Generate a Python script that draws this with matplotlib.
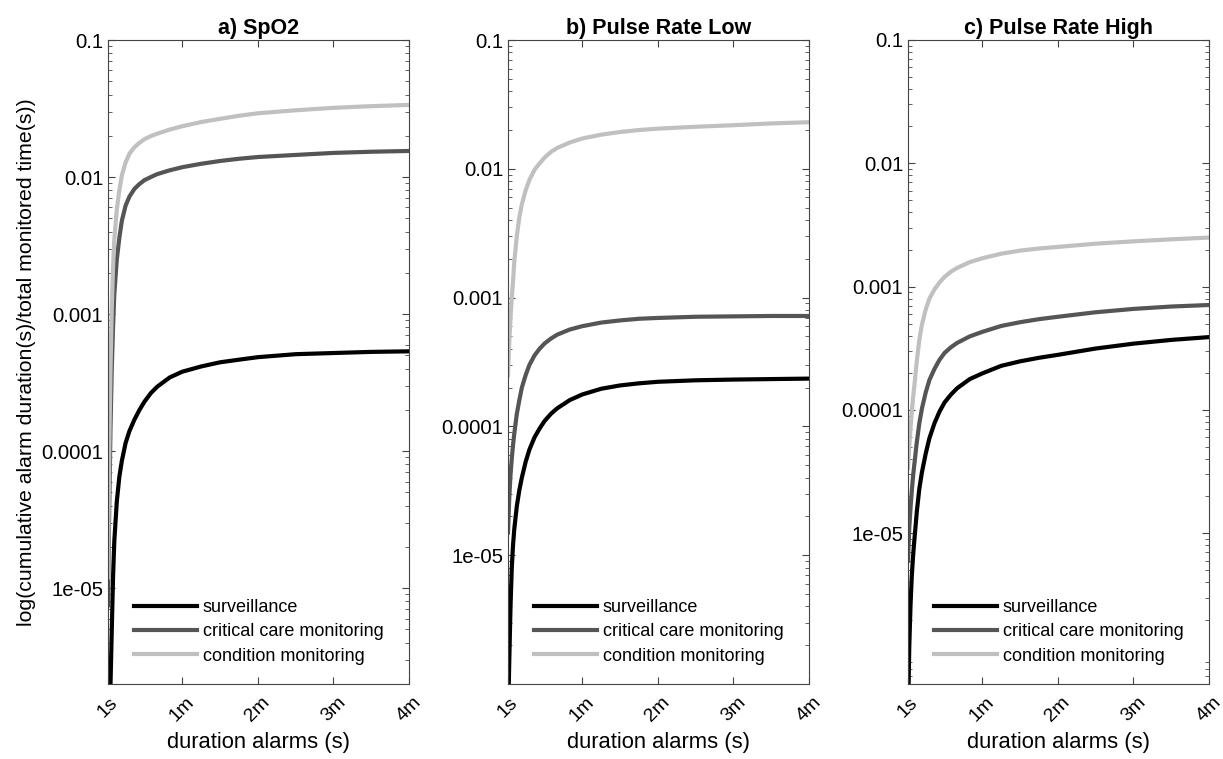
import numpy as np
import matplotlib
matplotlib.use("Agg")
import matplotlib.pyplot as plt
from matplotlib.ticker import LogLocator, NullFormatter

plt.rcParams['font.family'] = ['Liberation Sans', 'DejaVu Sans']

# alarm duration threshold (s)
t = [1, 2, 3, 4, 5, 6, 8, 10, 12, 15, 18, 22, 26, 30, 35, 40, 50, 60, 75, 90, 105, 120,
     150, 180, 210, 240]

# a) SpO2
spo2_surv = [1e-6, 1.2e-6, 2e-6, 5e-6, 1.2e-5, 2.2e-5, 4.3e-5, 6.5e-5, 8.5e-5, 1.15e-4,
             1.4e-4, 1.7e-4, 2.0e-4, 2.3e-4, 2.65e-4, 2.95e-4, 3.45e-4, 3.8e-4, 4.15e-4,
             4.45e-4, 4.65e-4, 4.85e-4, 5.1e-4, 5.2e-4, 5.3e-4, 5.35e-4]
spo2_crit = [7.5e-6, 4e-5, 1.5e-4, 4e-4, 8e-4, 1.4e-3, 2.5e-3, 3.6e-3, 4.8e-3, 6.2e-3,
             7.2e-3, 8.2e-3, 8.9e-3, 9.5e-3, 0.0100, 0.0105, 0.0112, 0.0118, 0.0125,
             0.0131, 0.0136, 0.0140, 0.0145, 0.0150, 0.0153, 0.0155]
spo2_cond = [1.2e-5, 1e-4, 4e-4, 1.1e-3, 2.2e-3, 3.5e-3, 5.8e-3, 8e-3, 0.0103, 0.0128,
             0.0148, 0.0165, 0.0178, 0.0189, 0.0199, 0.0207, 0.0222, 0.0235, 0.0252,
             0.0266, 0.0280, 0.0292, 0.0307, 0.0320, 0.0329, 0.0336]

# b) Pulse Rate Low
prl_surv = [5e-7, 1.5e-6, 4e-6, 8e-6, 1.2e-5, 1.6e-5, 2.4e-5, 3.2e-5, 4e-5, 5.3e-5,
            6.6e-5, 8.2e-5, 9.6e-5, 1.1e-4, 1.25e-4, 1.38e-4, 1.6e-4, 1.77e-4, 1.96e-4,
            2.08e-4, 2.16e-4, 2.22e-4, 2.28e-4, 2.31e-4, 2.33e-4, 2.35e-4]
prl_crit = [1.5e-5, 2.8e-5, 4.2e-5, 5.6e-5, 7.2e-5, 8.8e-5, 1.25e-4, 1.6e-4, 2.0e-4, 2.5e-4,
            3.0e-4, 3.55e-4, 4.0e-4, 4.4e-4, 4.8e-4, 5.15e-4, 5.65e-4, 6.0e-4, 6.4e-4,
            6.65e-4, 6.85e-4, 6.95e-4, 7.1e-4, 7.15e-4, 7.2e-4, 7.2e-4]
prl_cond = [2.5e-4, 4.5e-4, 7e-4, 1.0e-3, 1.35e-3, 1.9e-3, 3.0e-3, 4.2e-3, 5.3e-3, 6.8e-3,
            8.2e-3, 9.8e-3, 0.0110, 0.0122, 0.0135, 0.0145, 0.0160, 0.0172, 0.0184,
            0.0193, 0.0200, 0.0205, 0.0212, 0.0218, 0.0225, 0.0230]

# c) Pulse Rate High
prh_surv = [3e-7, 1.2e-6, 2.6e-6, 4.5e-6, 6.5e-6, 8.7e-6, 1.5e-5, 2.3e-5, 3.1e-5, 4.4e-5,
            5.9e-5, 7.8e-5, 9.7e-5, 1.15e-4, 1.33e-4, 1.5e-4, 1.78e-4, 1.98e-4, 2.28e-4,
            2.48e-4, 2.65e-4, 2.8e-4, 3.15e-4, 3.45e-4, 3.7e-4, 3.9e-4]
prh_crit = [6e-6, 1.1e-5, 1.6e-5, 2.2e-5, 2.9e-5, 3.6e-5, 5.5e-5, 7.8e-5, 1.02e-4, 1.38e-4,
            1.75e-4, 2.15e-4, 2.55e-4, 2.9e-4, 3.22e-4, 3.5e-4, 3.95e-4, 4.3e-4, 4.8e-4,
            5.15e-4, 5.45e-4, 5.7e-4, 6.2e-4, 6.6e-4, 6.9e-4, 7.1e-4]
prh_cond = [3.4e-5, 5.2e-5, 7.2e-5, 9.6e-5, 1.25e-4, 1.55e-4, 2.5e-4, 3.7e-4, 4.9e-4, 6.5e-4,
            8.0e-4, 9.5e-4, 1.08e-3, 1.2e-3, 1.32e-3, 1.42e-3, 1.58e-3, 1.7e-3, 1.85e-3,
            1.96e-3, 2.04e-3, 2.1e-3, 2.23e-3, 2.33e-3, 2.42e-3, 2.5e-3]

titles = ['a) SpO2', 'b) Pulse Rate Low', 'c) Pulse Rate High']
ymins = [2e-6, 1e-6, 6e-7]
series = [(spo2_surv, spo2_crit, spo2_cond),
          (prl_surv, prl_crit, prl_cond),
          (prh_surv, prh_crit, prh_cond)]
labels = ['surveillance', 'critical care monitoring', 'condition monitoring']
colors = ['#000000', '#555555', '#c0c0c0']

xticks = [1, 60, 120, 180, 240]
xticklabels = ['1s', '1m', '2m', '3m', '4m']
yticks = [1e-5, 1e-4, 1e-3, 1e-2, 1e-1]
yticklabels = ['1e-05', '0.0001', '0.001', '0.01', '0.1']

fig = plt.figure(figsize=(12.23, 7.59), dpi=100)
lefts = [108, 508, 908]
for i in range(3):
    ax = fig.add_axes([lefts[i] / 1223, 1 - 684 / 759, 301 / 1223, 644 / 759])
    for vals, lab, c in zip(series[i], labels, colors):
        ax.plot(t, vals, color=c, lw=3, label=lab)
    ax.set_yscale('log')
    ax.set_xlim(1, 240)
    ax.set_ylim(ymins[i], 0.1)
    ax.set_yticks(yticks)
    ax.set_yticklabels(yticklabels)
    ax.yaxis.set_minor_locator(LogLocator(base=10, subs=np.arange(2, 10)))
    ax.yaxis.set_minor_formatter(NullFormatter())
    ax.set_xticks(xticks)
    ax.set_xticklabels(xticklabels, rotation=45, ha='center')
    ax.tick_params(which='both', direction='in', top=True, right=True,
                   color='#444444', labelsize=14.7)
    ax.tick_params(which='major', length=5)
    ax.tick_params(which='minor', length=3)
    ax.tick_params(axis='x', pad=7, labelsize=14)
    for s in ax.spines.values():
        s.set_color('#444444')
    ax.set_title(titles[i], fontsize=15.5, fontweight='bold', pad=4)
    ax.set_xlabel('duration alarms (s)', fontsize=15.8, labelpad=5)
    if i == 0:
        ax.set_ylabel('log(cumulative alarm duration(s)/total monitored time(s))', fontsize=15.3)
    ax.legend(loc='lower left', frameon=False, fontsize=13, handlelength=3.5,
              handletextpad=0.3, labelspacing=0.39, bbox_to_anchor=(0.033, 0.005))

fig.savefig('out.png', dpi=100)
